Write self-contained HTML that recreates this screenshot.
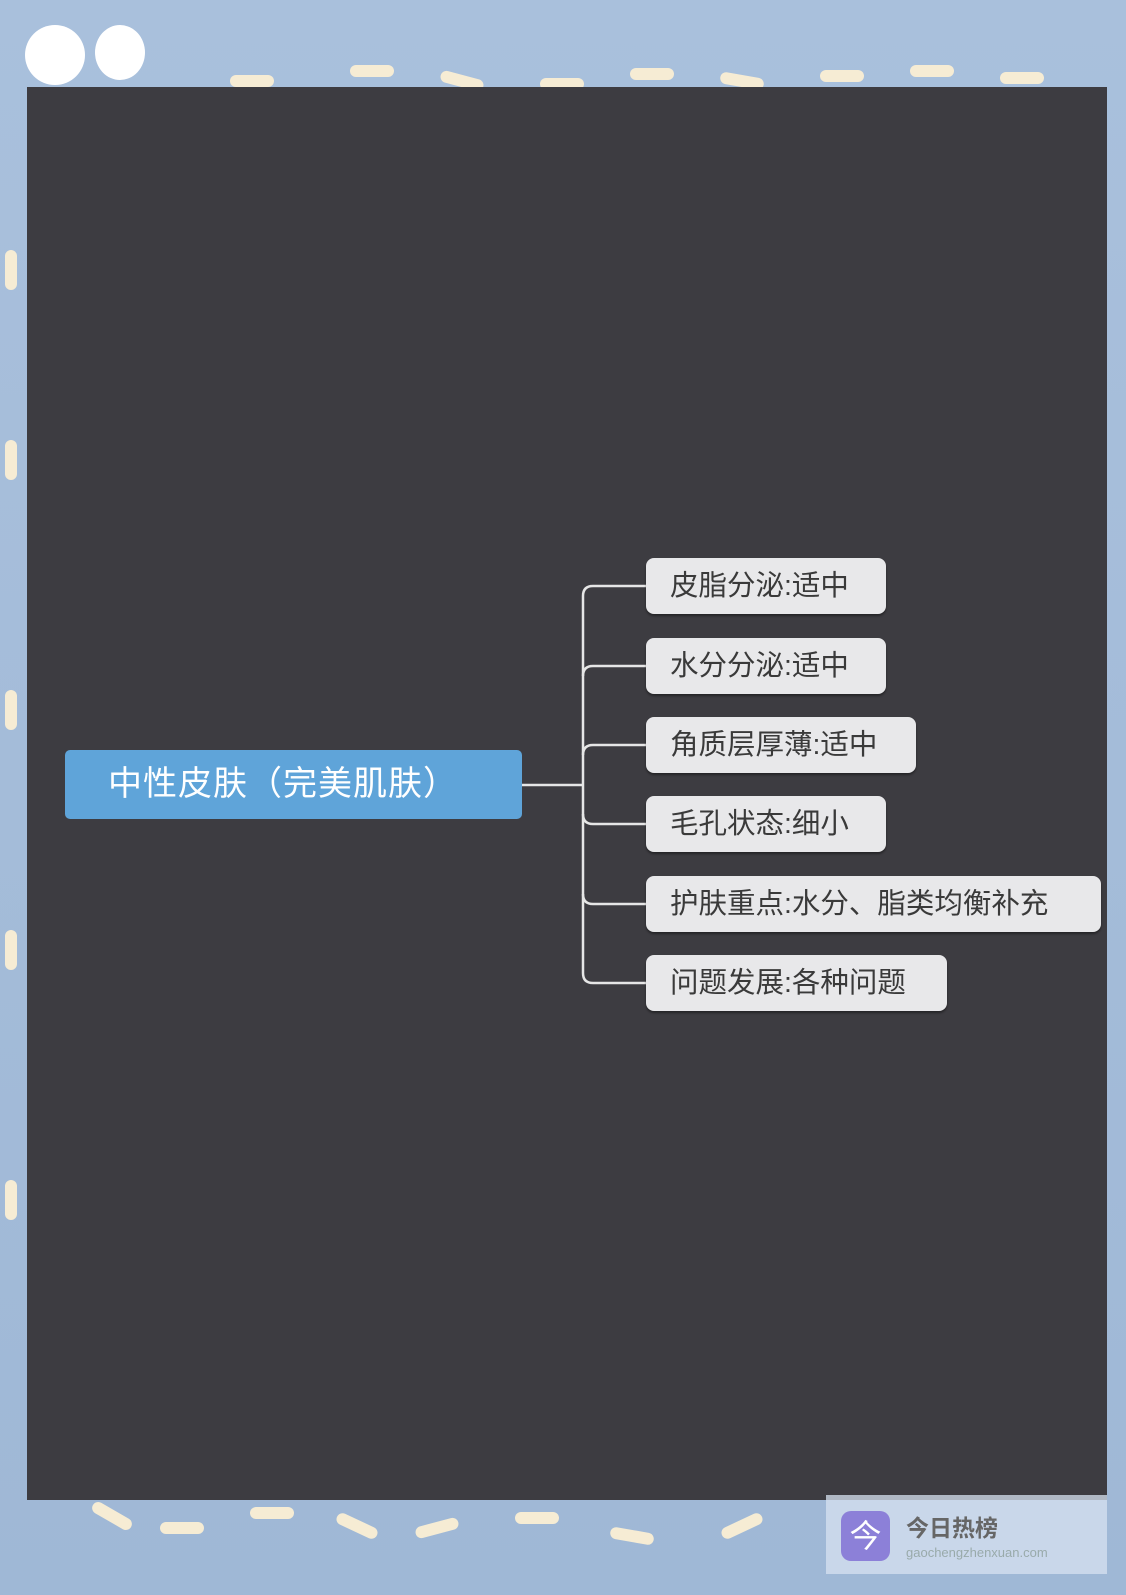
<!DOCTYPE html>
<html><head><meta charset="utf-8"><style>
body{margin:0;width:1126px;height:1595px;position:relative;overflow:hidden;background:linear-gradient(#a9c0dc,#9fb8d6);font-family:"Liberation Sans","Noto Sans CJK SC",sans-serif}
.d{position:absolute;width:44px;height:12px;border-radius:6px;background:#f6ecd4}
#panel{position:absolute;left:27px;top:87px;width:1080px;height:1413px;background:#3d3c41}
.n{position:absolute;left:646px;height:56px;background:#e8e8ea;border-radius:8px;color:#3a3a3a;font-size:28.5px;line-height:56px;padding-left:24px;box-sizing:border-box;box-shadow:0 2px 2px rgba(0,0,0,.4);white-space:nowrap}
#c{position:absolute;left:65px;top:750px;width:457px;height:69px;background:#5fa4d9;border-radius:5px;color:#fff;font-size:34px;line-height:69px;padding-left:43px;box-sizing:border-box;letter-spacing:1px;white-space:nowrap}
#wm{position:absolute;left:826px;top:1495px;width:281px;height:79px;background:rgba(215,225,240,.75)}
</style></head><body>
<div class="d" style="left:230px;top:75px"></div><div class="d" style="left:350px;top:65px"></div><div class="d" style="left:440px;top:75px;transform:rotate(15deg)"></div><div class="d" style="left:540px;top:78px"></div><div class="d" style="left:630px;top:68px"></div><div class="d" style="left:720px;top:75px;transform:rotate(10deg)"></div><div class="d" style="left:820px;top:70px"></div><div class="d" style="left:910px;top:65px"></div><div class="d" style="left:1000px;top:72px"></div>
<div style="position:absolute;left:25px;top:25px;width:60px;height:60px;border-radius:50%;background:#fff"></div><div style="position:absolute;left:95px;top:25px;width:50px;height:55px;border-radius:50%;background:#fff"></div>
<div class="d" style="left:90px;top:1510px;transform:rotate(30deg)"></div><div class="d" style="left:160px;top:1522px"></div><div class="d" style="left:250px;top:1507px"></div><div class="d" style="left:335px;top:1520px;transform:rotate(25deg)"></div><div class="d" style="left:415px;top:1522px;transform:rotate(-15deg)"></div><div class="d" style="left:515px;top:1512px"></div><div class="d" style="left:610px;top:1530px;transform:rotate(10deg)"></div><div class="d" style="left:720px;top:1520px;transform:rotate(-25deg)"></div>
<div class="d" style="left:5px;top:250px;width:12px;height:40px"></div><div class="d" style="left:5px;top:440px;width:12px;height:40px"></div><div class="d" style="left:5px;top:690px;width:12px;height:40px"></div><div class="d" style="left:5px;top:930px;width:12px;height:40px"></div><div class="d" style="left:5px;top:1180px;width:12px;height:40px"></div>
<div id="panel"></div>
<svg style="position:absolute;left:0;top:0" width="1126" height="1595"><g fill="none" stroke="#e6e6e6" stroke-width="2.5"><path d="M522 785H583"/><path d="M646 586H593Q583 586 583 596V973Q583 983 593 983H646"/><path d="M646 666H593Q583 666 583 676"/><path d="M646 745H593Q583 745 583 755"/><path d="M646 824H593Q583 824 583 814"/><path d="M646 904H593Q583 904 583 894"/></g></svg>
<div id="c">中性皮肤（完美肌肤）</div>
<div class="n" style="top:558px;width:240px">皮脂分泌:适中</div>
<div class="n" style="top:638px;width:240px">水分分泌:适中</div>
<div class="n" style="top:717px;width:270px">角质层厚薄:适中</div>
<div class="n" style="top:796px;width:240px">毛孔状态:细小</div>
<div class="n" style="top:876px;width:455px">护肤重点:水分、脂类均衡补充</div>
<div class="n" style="top:955px;width:301px">问题发展:各种问题</div>
<div id="wm"><div style="position:absolute;left:15px;top:16px;width:49px;height:50px;border-radius:10px;background:#8c80d8;color:#fff;font-size:32px;line-height:50px;text-align:center">今</div><div style="position:absolute;left:80px;top:14px;font-size:23px;font-weight:bold;color:#666">今日热榜</div><div style="position:absolute;left:80px;top:50px;font-size:13px;color:#9aa">gaochengzhenxuan.com</div></div>
</body></html>
